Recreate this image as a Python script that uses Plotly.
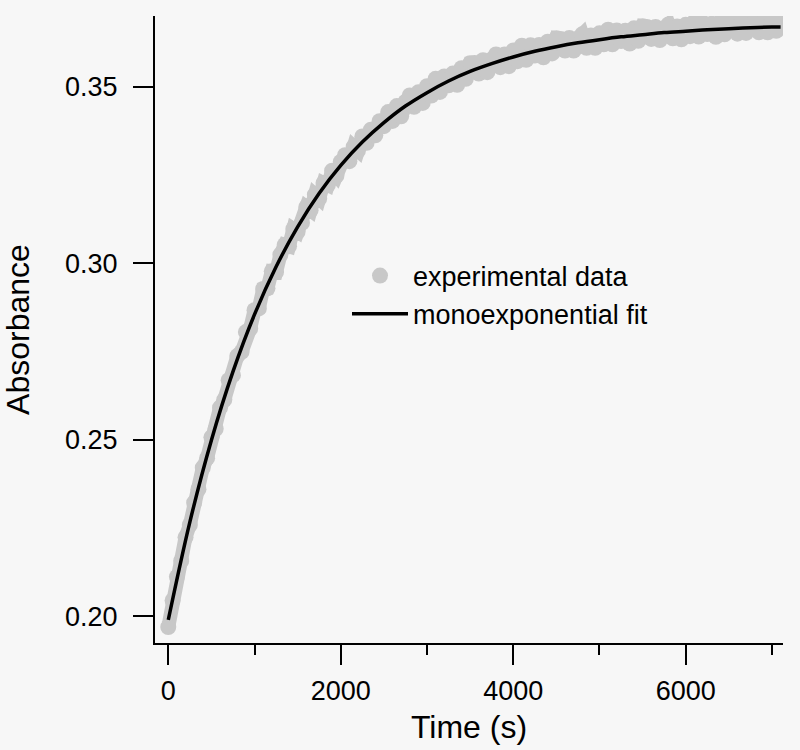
import plotly.graph_objects as go

time_data = list(range(0, 7150, 50))
absorbance_data = [
    0.1970, 0.2045, 0.2112, 0.2157, 0.2224, 0.2259, 0.2322, 0.2360, 0.2421, 0.2448,
    0.2507, 0.2531, 0.2591, 0.2614, 0.2669, 0.2683, 0.2737, 0.2749, 0.2805, 0.2815,
    0.2867, 0.2872, 0.2927, 0.2929, 0.2977, 0.2975, 0.3024, 0.3052, 0.3048, 0.3097,
    0.3089, 0.3114, 0.3159, 0.3150, 0.3194, 0.3183, 0.3227, 0.3221, 0.3262, 0.3248,
    0.3287, 0.3306, 0.3289, 0.3330, 0.3319, 0.3359, 0.3341, 0.3378, 0.3362, 0.3402,
    0.3388, 0.3428, 0.3403, 0.3445, 0.3416, 0.3457, 0.3475, 0.3443, 0.3484, 0.3454,
    0.3501, 0.3475, 0.3522, 0.3485, 0.3529, 0.3504, 0.3537, 0.3505, 0.3552, 0.3522,
    0.3566, 0.3567, 0.3537, 0.3575, 0.3541, 0.3577, 0.3591, 0.3555, 0.3591, 0.3558,
    0.3602, 0.3572, 0.3616, 0.3576, 0.3617, 0.3588, 0.3618, 0.3583, 0.3627, 0.3594,
    0.3637, 0.3635, 0.3602, 0.3638, 0.3602, 0.3636, 0.3648, 0.3610, 0.3645, 0.3610,
    0.3651, 0.3620, 0.3661, 0.3620, 0.3659, 0.3629, 0.3658, 0.3622, 0.3665, 0.3630,
    0.3671, 0.3669, 0.3635, 0.3669, 0.3632, 0.3665, 0.3676, 0.3637, 0.3670, 0.3634,
    0.3675, 0.3643, 0.3684, 0.3642, 0.3680, 0.3649, 0.3678, 0.3641, 0.3683, 0.3648,
    0.3688, 0.3685, 0.3650, 0.3684, 0.3652, 0.3679, 0.3689, 0.3654, 0.3683, 0.3654,
    0.3689, 0.3658, 0.3692,
]

# Monoexponential fit curve
time_fit = [0, 250, 500, 750, 1000, 1250, 1500, 1750, 2000, 2250, 2500, 2750, 3000,
            3250, 3500, 3750, 4000, 4250, 4500, 4750, 5000, 5250, 5500, 5750, 6000,
            6250, 6500, 6750, 7000, 7100]
absorbance_fit = [0.1990, 0.2267, 0.2499, 0.2693, 0.2855, 0.2990, 0.3103, 0.3198,
                  0.3277, 0.3343, 0.3398, 0.3445, 0.3483, 0.3516, 0.3543, 0.3565,
                  0.3584, 0.3600, 0.3613, 0.3624, 0.3633, 0.3641, 0.3647, 0.3653,
                  0.3657, 0.3661, 0.3664, 0.3667, 0.3669, 0.3669]

x_major_ticks = [0, 2000, 4000, 6000]
x_tick_labels = ["0", "2000", "4000", "6000"]
x_minor_ticks = [1000, 3000, 5000, 7000]
y_major_ticks = [0.20, 0.25, 0.30, 0.35]
y_tick_labels = ["0.20", "0.25", "0.30", "0.35"]

BG = "#f7f7f7"
GRAY = "rgb(200,200,200)"
FONT = "Liberation Sans, Arial, sans-serif"

fig = go.Figure()
# dense data record (points joined so it reads as a continuous band)
fig.add_trace(go.Scatter(
    x=time_data, y=absorbance_data, mode="lines+markers",
    name="experimental data", showlegend=False,
    line=dict(color=GRAY, width=14),
    marker=dict(color=GRAY, size=16, line=dict(width=0)),
))
# legend entry for the data
fig.add_trace(go.Scatter(
    x=[None], y=[None], mode="markers", name="experimental data",
    marker=dict(color=GRAY, size=16, line=dict(width=0)),
))
fig.add_trace(go.Scatter(
    x=time_fit, y=absorbance_fit, mode="lines",
    name="monoexponential fit", line_shape="spline",
    line=dict(color="black", width=3.5),
))

fig.update_layout(
    width=800, height=750,
    paper_bgcolor=BG, plot_bgcolor=BG,
    margin=dict(l=155, r=17, t=16, b=107, autoexpand=False),
    font=dict(family=FONT, size=27, color="black"),
    showlegend=True,
    legend=dict(
        x=(347 - 155) / 628, y=(643 - 295) / 627, xanchor="left", yanchor="middle",
        bgcolor="rgba(0,0,0,0)", font=dict(size=27), itemwidth=56,
        tracegroupgap=0,
    ),
    xaxis=dict(
        range=[-154, 7128], showgrid=False, zeroline=False, automargin=False,
        showline=True, linecolor="black", linewidth=2,
        ticks="outside", ticklen=20, tickwidth=2, tickcolor="black",
        tickvals=x_major_ticks, ticktext=x_tick_labels,
        ticklabelstandoff=3,
        minor=dict(tickvals=x_minor_ticks, ticks="outside",
                   ticklen=10, tickwidth=2, tickcolor="black"),
        title=dict(text="Time (s)", standoff=10),
    ),
    yaxis=dict(
        range=[0.19247, 0.3700], showgrid=False, zeroline=False, automargin=False,
        showline=True, linecolor="black", linewidth=2,
        ticks="outside", ticklen=20, tickwidth=2, tickcolor="black",
        tickvals=y_major_ticks, ticktext=y_tick_labels,
        ticklabelstandoff=10,
        title=dict(text="Absorbance", standoff=27),
    ),
)

fig.write_html(
    "out.html",
    config={"displayModeBar": False},
    post_script="document.body.style.margin='0';document.body.style.background='#f7f7f7';",
)
